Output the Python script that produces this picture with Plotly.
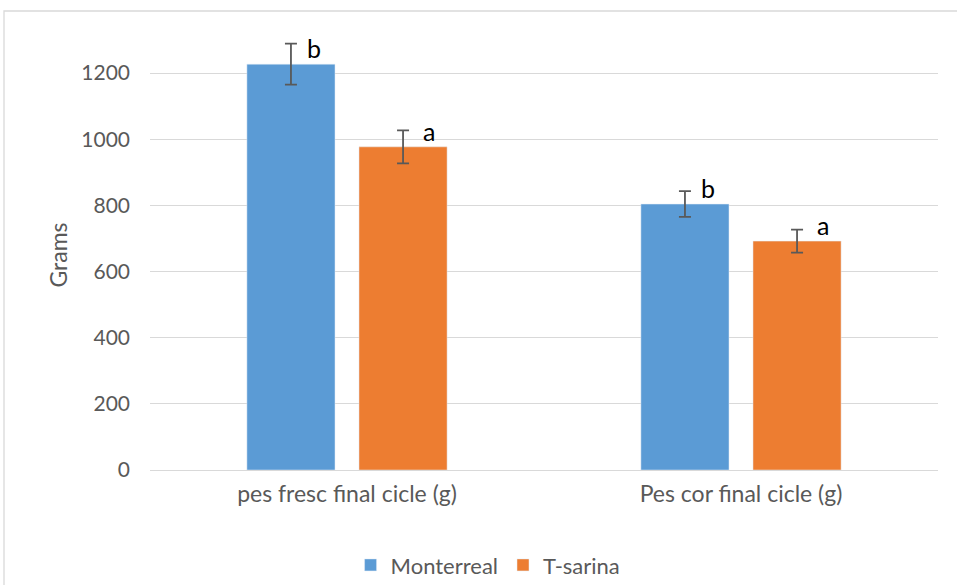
import plotly.graph_objects as go

categories = ["pes fresc final cicle (g)", "Pes cor final cicle (g)"]
series_names = ["Monterreal", "T-sarina"]
monterreal = [1227, 804]
monterreal_err = [62, 39]
monterreal_letters = ["b", "b"]
tsarina = [977, 692]
tsarina_err = [50, 35]
tsarina_letters = ["a", "a"]
y_ticks = [0, 200, 400, 600, 800, 1000, 1200]

FONT = "Lato"
GRAY = "#595959"

fig = go.Figure()
fig.add_trace(go.Bar(
    name=series_names[0], x=categories, y=monterreal,
    marker=dict(color="#5B9BD5"),
    error_y=dict(type="data", array=monterreal_err, color=GRAY, thickness=1.8, width=6),
    offsetgroup="a",
))
fig.add_trace(go.Bar(
    name=series_names[1], x=categories, y=tsarina,
    marker=dict(color="#ED7D31"),
    error_y=dict(type="data", array=tsarina_err, color=GRAY, thickness=1.8, width=6),
    offsetgroup="b",
))

annotations = []
for vals, letters, shift in [
    (monterreal, monterreal_letters, -56 + 23),
    (tsarina, tsarina_letters, 56 + 26),
]:
    for cat, v, l in zip(categories, vals, letters):
        annotations.append(dict(
            x=cat, y=v, text=l, showarrow=False, xref="x", yref="y",
            xshift=shift, yshift=-1, xanchor="center", yanchor="bottom",
            font=dict(family=FONT, size=25, color="#000000"),
        ))

fig.update_layout(
    width=957, height=585,
    margin=dict(l=150, r=19, t=40, b=115),
    paper_bgcolor="white", plot_bgcolor="white",
    barmode="group", bargap=0.431, bargroupgap=0.214,
    font=dict(family=FONT, size=23, color=GRAY),
    showlegend=True,
    legend=dict(orientation="h", xref="container", yref="container",
                x=0.510, y=0.034, xanchor="center", yanchor="middle",
                font=dict(family=FONT, size=22, color=GRAY), itemwidth=30,
                traceorder="normal"),
    xaxis=dict(showgrid=False, showline=False, ticks="", ticklabelstandoff=8,
               tickfont=dict(size=23, color=GRAY)),
    yaxis=dict(range=[0, 1300], tickvals=y_ticks, showgrid=True, gridcolor="#D9D9D9",
               gridwidth=1.3, zeroline=True, zerolinecolor="#D9D9D9", zerolinewidth=1.3,
               showline=False, ticks="", ticklabelstandoff=19,
               tickfont=dict(size=21, color=GRAY),
               title=dict(text="Grams", font=dict(size=23, color=GRAY), standoff=7)),
    annotations=annotations,
    shapes=[dict(type="rect", xref="paper", yref="paper",
                 x0=(4 - 150) / 788, x1=1.2, y0=-0.4, y1=1 + (40 - 11) / 430,
                 line=dict(color="#D9D9D9", width=1.3), fillcolor="rgba(0,0,0,0)", layer="below")],
)

fig.write_html("out.html", config={"displayModeBar": False},
               post_script="document.body.style.margin='0';document.body.style.overflow='hidden';")
